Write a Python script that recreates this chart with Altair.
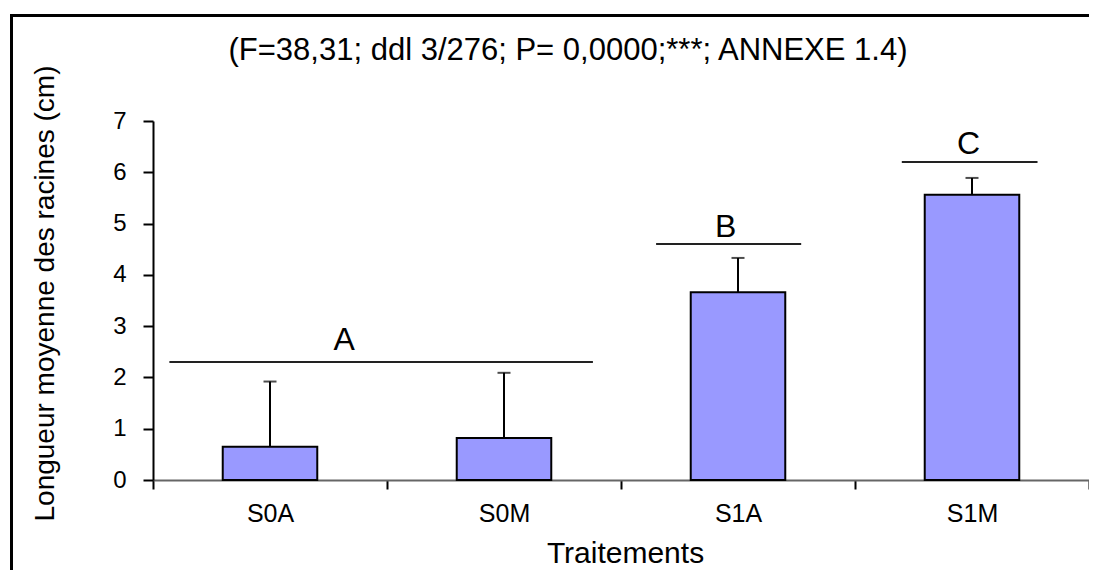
import altair as alt
import pandas as pd

treatments = ["S0A", "S0M", "S1A", "S1M"]
means = [0.65, 0.82, 3.66, 5.56]
err_top = [1.92, 2.09, 4.33, 5.89]

sig_letters = ["A", "B", "C"]
sig_start = [0.07, 2.15, 3.20]
sig_end = [1.88, 2.77, 3.78]
sig_y = [2.30, 4.60, 6.20]
letter_x = [0.817, 2.447, 3.485]
letter_y = [2.73, 4.93, 6.55]

title_text = "(F=38,31; ddl 3/276; P= 0,0000;***; ANNEXE 1.4)"

FONT = "Liberation Sans"

bars_df = pd.DataFrame({"t": treatments, "m": means, "e": err_top})
sig_df = pd.DataFrame({"letter": sig_letters, "s": sig_start, "e": sig_end,
                       "y": sig_y, "lx": letter_x, "ly": letter_y})

yscale = alt.Scale(domain=[0, 7], nice=False)
xband = alt.Scale(domain=treatments, paddingInner=0, paddingOuter=0)

base = alt.Chart(bars_df)

bars = base.mark_bar(color="#9999FF", stroke="black", strokeWidth=2,
                     width=alt.RelativeBandSize(0.404)).encode(
    x=alt.X("t:N", scale=xband, sort=treatments,
            axis=alt.Axis(title="Traitements", labelAngle=0, tickBand="extent",
                          tickSize=9, labelPadding=12, labelFontSize=25,
                          domainColor="#666666", domainWidth=2,
                          tickColor="black", tickWidth=2,
                          titleFontSize=30, titleFontWeight="normal",
                          titleX=472, titleY=73, titleBaseline="middle",
                          titleAlign="center")),
    y=alt.Y("m:Q", scale=yscale,
            axis=alt.Axis(title="Longueur moyenne des racines (cm)",
                          values=[0, 1, 2, 3, 4, 5, 6, 7], grid=False,
                          tickSize=10, labelPadding=17, labelFontSize=24,
                          domainColor="black", domainWidth=2,
                          tickColor="black", tickWidth=2,
                          titleFontSize=28, titleFontWeight="normal",
                          titleX=-108, titleY=172, titleAngle=270,
                          titleBaseline="middle", titleAlign="center")),
)

err_rule = base.mark_rule(color="black", strokeWidth=2).encode(
    x=alt.X("t:N", scale=xband, sort=treatments),
    y=alt.Y("m:Q", scale=yscale),
    y2="e:Q",
)
err_cap = base.mark_tick(color="black", thickness=2, size=13).encode(
    x=alt.X("t:N", scale=xband, sort=treatments),
    y=alt.Y("e:Q", scale=yscale),
)

xq = alt.Scale(domain=[0, 4], nice=False)
sig_base = alt.Chart(sig_df)
sig_lines = sig_base.mark_rule(color="#222222", strokeWidth=2).encode(
    x=alt.X("s:Q", scale=xq, axis=None),
    x2="e:Q",
    y=alt.Y("y:Q", scale=yscale),
)
sig_text = sig_base.mark_text(font=FONT, fontSize=32, color="black",
                              baseline="middle", align="center").encode(
    x=alt.X("lx:Q", scale=xq, axis=None),
    y=alt.Y("ly:Q", scale=yscale),
    text="letter:N",
)

one = pd.DataFrame({"a": [0]})
frame_top = alt.Chart(one).mark_rule(color="black", strokeWidth=3, clip=False).encode(
    x=alt.value(-142), x2=alt.value(960), y=alt.value(-105.5))
frame_left = alt.Chart(one).mark_rule(color="black", strokeWidth=3, clip=False).encode(
    x=alt.value(-141.5), y=alt.value(-107), y2=alt.value(500))
title = alt.Chart(pd.DataFrame({"txt": [title_text]})).mark_text(
    font=FONT, fontSize=31, color="black", baseline="middle", align="center",
    clip=False).encode(x=alt.value(415), y=alt.value(-70), text="txt:N")

chart = alt.layer(
    alt.layer(bars, err_rule, err_cap),
    alt.layer(sig_lines, sig_text),
    frame_top, frame_left, title,
).resolve_scale(x="independent").properties(
    width=936, height=359,
    autosize=alt.AutoSizeParams(type="none"),
    padding={"left": 145, "top": 113, "right": 0, "bottom": 90},
).configure(font=FONT).configure_view(stroke=None).configure_axis(
    labelFont=FONT, titleFont=FONT, labelColor="black", titleColor="black")

chart.save("out.html", embed_options={"renderer": "svg", "actions": False})
